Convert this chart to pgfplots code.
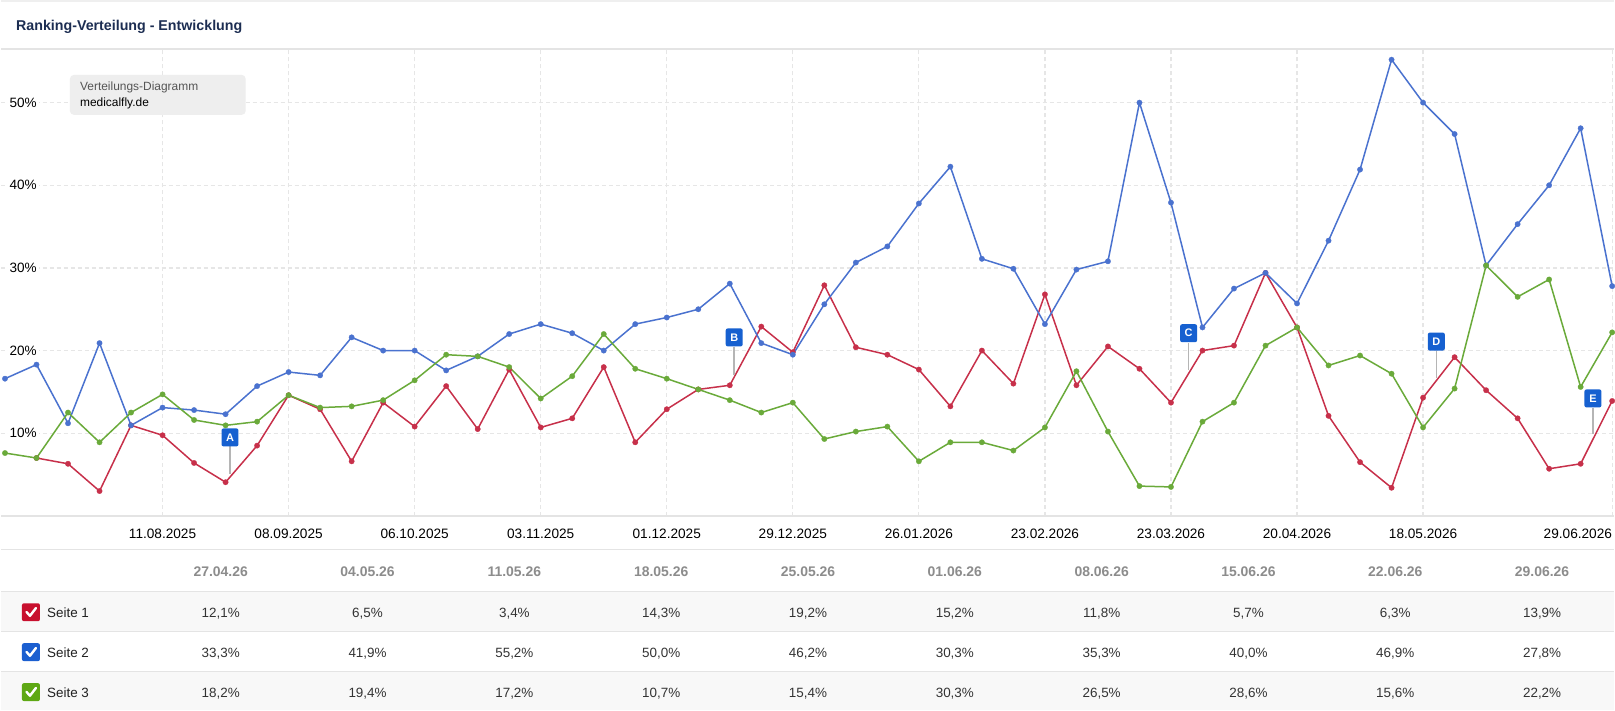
\documentclass[border=0pt]{standalone}
\usepackage{pgfplots}
\usepackage{pgfplotstable}
\pgfplotsset{compat=1.18}
\usepackage{fontspec}
\setmainfont{Liberation Sans}
\definecolor{cred}{HTML}{C7304A}
\definecolor{cblue}{HTML}{4A72CF}
\definecolor{cgreen}{HTML}{6AAA3A}
\definecolor{boxred}{HTML}{C8102E}
\definecolor{boxblue}{HTML}{1B5FD0}
\definecolor{boxgreen}{HTML}{5EA814}
\definecolor{flagblue}{HTML}{1660D0}
\definecolor{stemgray}{HTML}{B5B5B5}
\definecolor{gridgray}{HTML}{E6E6E6}
\definecolor{sepgray}{HTML}{E4E4E4}
\definecolor{rowgray}{HTML}{F8F8F8}
\definecolor{topgray}{HTML}{EFEFEF}
\definecolor{titlenavy}{HTML}{1C2D52}
\definecolor{headgray}{HTML}{8C8C8C}
\definecolor{tipgray}{HTML}{EEEEEE}
\definecolor{tiptext}{HTML}{555555}
\definecolor{celltext}{HTML}{333333}

\pgfplotstableread{
w s1 s2 s3
0 nan 16.6 7.6
1 7.0 18.3 7.0
2 6.3 11.2 12.5
3 3.0 20.9 8.9
4 10.95 10.95 12.5
5 9.75 13.1 14.7
6 6.4 12.8 11.6
7 4.07 12.3 10.95
8 8.5 15.7 11.4
9 14.6 17.4 14.6
10 12.9 17.0 13.1
11 6.6 21.6 13.25
12 13.7 20.0 14.0
13 10.8 20.0 16.4
14 15.7 17.6 19.5
15 10.5 19.3 19.3
16 17.7 22.0 18.0
17 10.7 23.2 14.2
18 11.8 22.1 16.9
19 18.0 20.0 22.0
20 8.9 23.2 17.8
21 12.9 24.0 16.6
22 15.3 25.0 15.3
23 15.8 28.1 14.0
24 22.9 20.9 12.5
25 19.8 19.5 13.7
26 27.9 25.6 9.3
27 20.4 30.65 10.2
28 19.5 32.6 10.8
29 17.7 37.8 6.6
30 13.25 42.25 8.9
31 20.0 31.1 8.9
32 16.0 29.9 7.9
33 26.8 23.2 10.7
34 15.8 29.8 17.5
35 20.5 30.8 10.2
36 17.8 50.0 3.6
37 13.7 37.9 3.5
38 20.0 22.8 11.4
39 20.6 27.5 13.7
40 29.4 29.4 20.6
41 22.8 25.7 22.8
42 12.1 33.3 18.2
43 6.5 41.9 19.4
44 3.4 55.2 17.2
45 14.3 50.0 10.7
46 19.2 46.2 15.4
47 15.2 30.3 30.3
48 11.8 35.3 26.5
49 5.7 40.0 28.6
50 6.3 46.9 15.6
51 13.9 27.8 22.2
}\rankdata

\newcommand{\chk}[3]{%
  \fill[#3, rounded corners=2bp] (#1-9,#2-9) rectangle (#1+9,#2+9);
  \draw[white, line width=2.4bp, line cap=round, line join=round] (#1-4.5,#2+0.3) -- (#1-1,#2-3.6) -- (#1+5,#2+4.2);
}

\begin{document}
\begin{tikzpicture}[x=1bp,y=1bp]
\fill[white] (0,0) rectangle (1615,711);
\fill[topgray] (0,708.5) rectangle (1615,711);
\node[anchor=base west, inner sep=0pt, font=\fontsize{14.3}{16}\selectfont\bfseries, text=titlenavy] at (15,680) {Ranking-Verteilung - Entwicklung};
\draw[line width=1.2bp, sepgray] (0,662) -- (1615,662);
% table backgrounds
\fill[rowgray] (0,78.7) rectangle (1615,118.7);
\fill[rowgray] (0,0) rectangle (1615,38.7);
\foreach \yy in {160.5,118.7,78.7,38.7} \draw[line width=1.2bp, sepgray] (0,\yy) -- (1615,\yy);

\begin{axis}[
  at={(0bp,194.5bp)}, anchor=south west,
  scale only axis, width=1615bp, height=467.5bp,
  xmin=-0.1268, xmax=51.06, ymin=0, ymax=56.5,
  axis line style={draw=none},
  major tick length=0pt,
  unbounded coords=jump,
  xtick={5,9,13,17,21,25,29,33,37,41,45},
  xticklabels={11.08.2025,08.09.2025,06.10.2025,03.11.2025,01.12.2025,29.12.2025,26.01.2026,23.02.2026,23.03.2026,20.04.2026,18.05.2026},
  extra x ticks={51},
  extra x tick labels={29.06.2026},
  extra x tick style={grid=major, xticklabel style={anchor=base east}},
  ytick={10,20,30,40,50},
  yticklabels={10\%,20\%,30\%,40\%,50\%},
  grid=major,
  major grid style={draw=gridgray, line width=1.2bp, dash pattern=on 4bp off 3bp},
  xticklabel style={font=\fontsize{13.7}{16}\selectfont, anchor=base, inner sep=0pt, yshift=-22.8bp},
  yticklabel style={font=\fontsize{13.6}{16}\selectfont, anchor=east, fill=white, inner sep=2bp, xshift=38bp},
]
\addplot[cred, line width=1.5bp, mark=*, mark size=2.7bp, mark options={line width=0.3bp, fill=cred}] table[x=w, y=s1] {\rankdata};
\addplot[cblue, line width=1.5bp, mark=*, mark size=2.7bp, mark options={line width=0.3bp, fill=cblue}] table[x=w, y=s2] {\rankdata};
\addplot[cgreen, line width=1.5bp, mark=*, mark size=2.7bp, mark options={line width=0.3bp, fill=cgreen}] table[x=w, y=s3] {\rankdata};
% event flags
\tikzset{flag/.style={fill=flagblue, rounded corners=2bp, minimum width=17bp, minimum height=18bp, inner sep=0pt, text=white, font=\fontsize{11}{12}\selectfont\bfseries}}
\draw[stemgray, line width=1.5bp] (axis cs:7.14,8.4) -- (axis cs:7.14,5.02);
\node[flag] at (axis cs:7.14,9.49) {A};
\draw[stemgray, line width=1.5bp] (axis cs:23.14,20.48) -- (axis cs:23.14,17.1);
\node[flag] at (axis cs:23.14,21.59) {B};
\draw[stemgray, line width=1.5bp] (axis cs:37.56,20.93) -- (axis cs:37.56,17.7);
\node[flag] at (axis cs:37.56,22.1) {C};
\draw[stemgray, line width=1.5bp] (axis cs:45.42,20.0) -- (axis cs:45.42,16.74);
\node[flag] at (axis cs:45.42,21.09) {D};
\draw[stemgray, line width=1.5bp] (axis cs:50.39,13.11) -- (axis cs:50.39,9.85);
\node[flag] at (axis cs:50.39,14.21) {E};
\end{axis}
\draw[line width=2bp, sepgray] (0,194.5) -- (1615,194.5);

% tooltip box
\fill[tipgray, rounded corners=4bp] (69,596) rectangle (245,636);
\node[anchor=base west, inner sep=0pt, font=\fontsize{12}{14}\selectfont, text=tiptext] at (79,620) {Verteilungs-Diagramm};
\node[anchor=base west, inner sep=0pt, font=\fontsize{12}{14}\selectfont, text=black] at (79,604) {medicalfly.de};

% table header
\foreach \d [count=\i from 0] in {27.04.26,04.05.26,11.05.26,18.05.26,25.05.26,01.06.26,08.06.26,15.06.26,22.06.26,29.06.26}
  \node[anchor=base, inner sep=0pt, font=\fontsize{14}{16}\selectfont\bfseries, text=headgray] at (220+147*\i,133.7) {\d};
% rows
\chk{30}{98}{boxred}
\chk{30}{58}{boxblue}
\chk{30}{18}{boxgreen}
\node[anchor=base west, inner sep=0pt, font=\fontsize{13.5}{16}\selectfont, text=black!87] at (46,92.8) {Seite 1};
\node[anchor=base west, inner sep=0pt, font=\fontsize{13.5}{16}\selectfont, text=black!87] at (46,53) {Seite 2};
\node[anchor=base west, inner sep=0pt, font=\fontsize{13.5}{16}\selectfont, text=black!87] at (46,13) {Seite 3};
\foreach \v [count=\i from 0] in {{12,1\%},{6,5\%},{3,4\%},{14,3\%},{19,2\%},{15,2\%},{11,8\%},{5,7\%},{6,3\%},{13,9\%}}
  \node[anchor=base, inner sep=0pt, font=\fontsize{13.5}{16}\selectfont, text=celltext] at (220+147*\i,92.8) {\v};
\foreach \v [count=\i from 0] in {{33,3\%},{41,9\%},{55,2\%},{50,0\%},{46,2\%},{30,3\%},{35,3\%},{40,0\%},{46,9\%},{27,8\%}}
  \node[anchor=base, inner sep=0pt, font=\fontsize{13.5}{16}\selectfont, text=celltext] at (220+147*\i,53) {\v};
\foreach \v [count=\i from 0] in {{18,2\%},{19,4\%},{17,2\%},{10,7\%},{15,4\%},{30,3\%},{26,5\%},{28,6\%},{15,6\%},{22,2\%}}
  \node[anchor=base, inner sep=0pt, font=\fontsize{13.5}{16}\selectfont, text=celltext] at (220+147*\i,13) {\v};
\end{tikzpicture}
\end{document}
